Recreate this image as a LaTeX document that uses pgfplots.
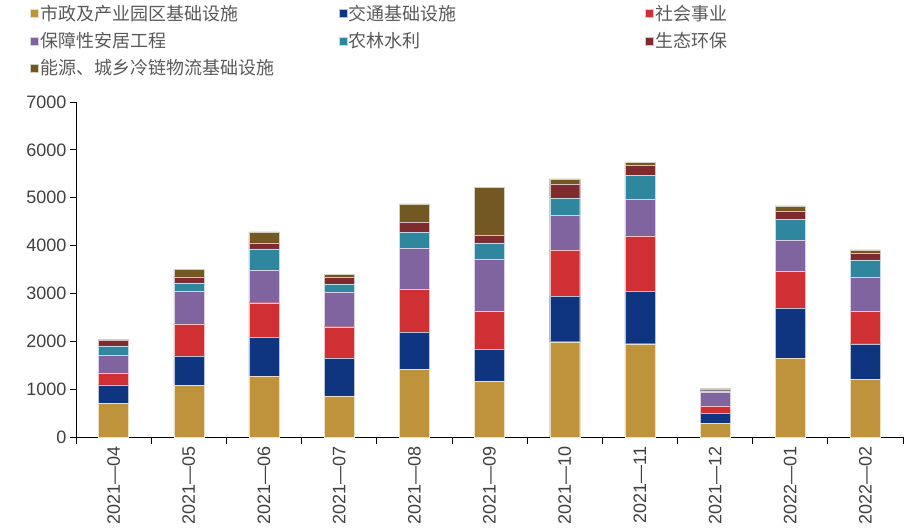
\documentclass[border=0pt]{standalone}
\usepackage{pgfplots}
\pgfplotsset{compat=1.18}
\usepackage{fontspec}
\setmainfont{Liberation Sans}
\newfontfamily\cjk{Noto Sans CJK SC}
\definecolor{cGold}{RGB}{191,147,60}
\definecolor{cBlue}{RGB}{15,53,128}
\definecolor{cRed}{RGB}{208,48,51}
\definecolor{cPurple}{RGB}{128,100,160}
\definecolor{cTeal}{RGB}{47,134,159}
\definecolor{cMaroon}{RGB}{125,43,46}
\definecolor{cBrown}{RGB}{115,88,35}
\definecolor{txt}{RGB}{64,64,64}
\definecolor{legtxt}{RGB}{89,89,89}
\begin{document}
\begin{tikzpicture}
\begin{axis}[
  scale only axis,
  width=827pt, height=335pt,
  xmin=-0.5, xmax=10.5,
  ymin=0, ymax=7000,
  ybar stacked,
  bar width=30pt,
  axis x line*=bottom,
  axis y line*=left,
  axis line style={black, line width=0.8pt},
  xtick={0,...,10},
  xticklabels={2021—04,2021—05,2021—06,2021—07,2021—08,2021—09,2021—10,2021—11,2021—12,2022—01,2022—02},
  minor xtick={-0.5,0.5,...,10.5},
  major x tick style={draw=none},
  minor x tick style={black, line width=0.8pt},
  minor tick length=7pt,
  ytick={0,1000,...,7000},
  major y tick style={black, line width=0.8pt},
  major tick length=6pt,
  tick align=outside,
  /pgf/number format/assume math mode=true,
  /pgf/number format/1000 sep={},
  y tick label style={font=\fontsize{18}{21}\selectfont, text=txt},
  x tick label style={font=\fontsize{18}{21}\selectfont, text=txt, rotate=90, anchor=east},
  legend columns=3,
  legend cell align=left,
  legend style={draw=none, fill=none, at={(0,1)}, anchor=north west, xshift=-49pt, yshift=101pt,
    font=\cjk\fontsize{18}{21}\selectfont, text=legtxt, row sep=6.5pt,
    /tikz/every even column/.append style={column sep=0pt}},
  legend image code/.code={\fill[#1] (0pt,-4pt) rectangle (8pt,4pt);},
  clip=false,
]
\addplot[fill=cGold, draw=white!70!cGold, line width=0.3pt] coordinates {(0,703) (1,1080) (2,1267) (3,850) (4,1413) (5,1163) (6,1991) (7,1949) (8,279) (9,1650) (10,1205)};
\addplot[fill=cBlue, draw=white!70!cBlue, line width=0.3pt] coordinates {(0,385) (1,610) (2,821) (3,800) (4,779) (5,674) (6,953) (7,1093) (8,222) (9,1044) (10,744)};
\addplot[fill=cRed, draw=white!70!cRed, line width=0.3pt] coordinates {(0,250) (1,675) (2,718) (3,654) (4,898) (5,794) (6,960) (7,1163) (8,146) (9,772) (10,675)};
\addplot[fill=cPurple, draw=white!70!cPurple, line width=0.3pt] coordinates {(0,375) (1,675) (2,681) (3,717) (4,863) (5,1093) (6,731) (7,772) (8,286) (9,640) (10,724)};
\addplot[fill=cTeal, draw=white!70!cTeal, line width=0.3pt] coordinates {(0,190) (1,180) (2,446) (3,174) (4,320) (5,334) (6,363) (7,486) (8,35) (9,439) (10,355)};
\addplot[fill=cMaroon, draw=white!70!cMaroon, line width=0.3pt] coordinates {(0,120) (1,125) (2,125) (3,153) (4,216) (5,159) (6,284) (7,216) (8,28) (9,181) (10,146)};
\addplot[fill=cBrown, draw=white!70!cBrown, line width=0.3pt] coordinates {(0,20) (1,160) (2,230) (3,49) (4,383) (5,996) (6,112) (7,62) (8,27) (9,104) (10,63)};
\addlegendentry{\makebox[296pt][l]{市政及产业园区基础设施}}
\addlegendentry{\makebox[294pt][l]{交通基础设施}}
\addlegendentry{\makebox[200pt][l]{社会事业}}
\addlegendentry{\makebox[296pt][l]{保障性安居工程}}
\addlegendentry{\makebox[294pt][l]{农林水利}}
\addlegendentry{\makebox[200pt][l]{生态环保}}
\addlegendentry{\makebox[296pt][l]{能源、城乡冷链物流基础设施}}
\end{axis}
\pgfresetboundingbox
\path ([xshift=-76pt,yshift=-92pt]current axis.south west) rectangle ([xshift=3pt,yshift=102pt]current axis.north east);
\end{tikzpicture}
\end{document}
